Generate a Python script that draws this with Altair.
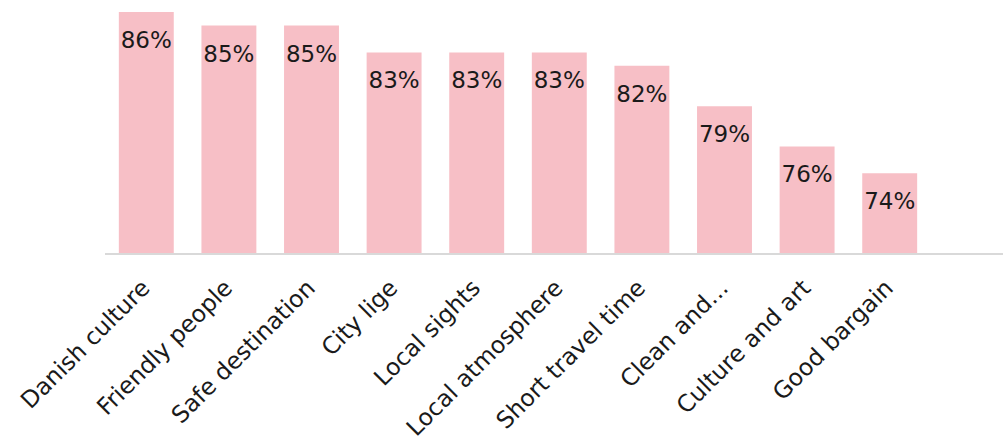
import altair as alt
import pandas as pd

# Share of respondents citing each reason
reasons = [
    "Danish culture",
    "Friendly people",
    "Safe destination",
    "City lige",
    "Local sights",
    "Local atmosphere",
    "Short travel time",
    "Clean and...",
    "Culture and art",
    "Good bargain",
]
shares = [86, 85, 85, 83, 83, 83, 82, 79, 76, 74]

df = pd.DataFrame({"reason": reasons, "share": shares})
df["label"] = df["share"].astype(str) + "%"

FONT = "DejaVu Sans"
PINK = "#F7BFC6"
INK = "#1A1A1A"

x = alt.X(
    "reason:N",
    sort=reasons,
    title=None,
    scale=alt.Scale(paddingInner=0.335, paddingOuter=0.1675),
    axis=alt.Axis(
        domain=False,
        ticks=False,
        labelAngle=-45,
        labelAlign="right",
        labelBaseline="middle",
        labelPadding=30,
        labelFont=FONT,
        labelFontSize=23.5,
        labelColor=INK,
        labelLimit=400,
    ),
)
y = alt.Y(
    "share:Q",
    title=None,
    scale=alt.Scale(domain=[68, 86.9], nice=False, zero=False),
    axis=None,
)

bars = alt.Chart(df).mark_bar(color=PINK, clip=True).encode(x=x, y=y)

labels = alt.Chart(df).mark_text(
    font=FONT, fontSize=23, color=INK, baseline="middle", align="center", dy=29
).encode(x=x, y=y, text="label:N")

# Baseline rule running the full width under the bars
baseline = alt.Chart(df).mark_rule(color="#D9D9D9", strokeWidth=2).encode(
    x=alt.value(0), x2=alt.value(898), y=alt.value(254)
)

chart = (
    alt.layer(bars, baseline, labels)
    .properties(
        width=826,
        height=254,
        autosize=alt.AutoSizeParams(type="none"),
        padding={"left": 105, "top": 0, "right": 72, "bottom": 183},
    )
    .configure_view(stroke=None)
)

chart.save("out.html", embed_options={"renderer": "svg", "actions": False})
